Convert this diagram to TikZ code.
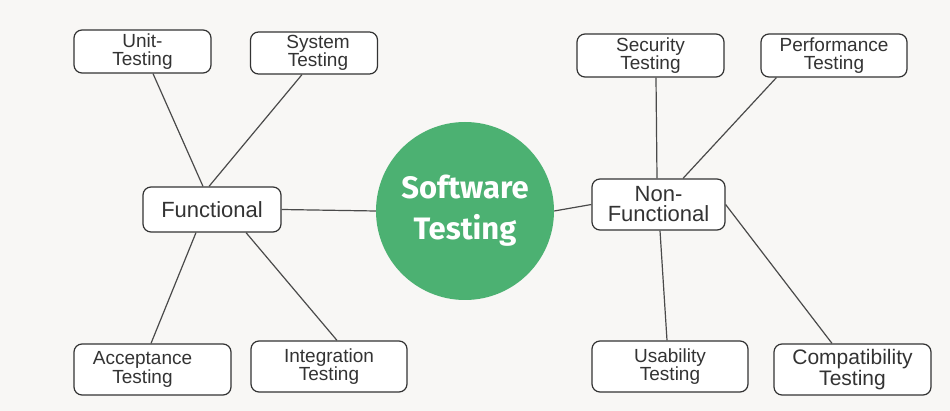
\documentclass[tikz,border=0pt]{standalone}
\usepackage{fontspec}
\setmainfont{Liberation Sans}
\newfontfamily\titlefont{Fira Sans}
\definecolor{bggrey}{HTML}{F8F7F5}
\definecolor{stgreen}{HTML}{4CB172}
\definecolor{inkgrey}{HTML}{333333}
\definecolor{wiregrey}{HTML}{4A4A4A}

\tikzset{
  testbox/.style={draw=inkgrey, line width=1.2pt, fill=white, rounded corners=8pt,
    inner sep=0pt, align=center, text=inkgrey,
    font=\fontsize{19}{18.5}\selectfont},
  hub/.style={testbox, font=\fontsize{22}{20}\selectfont},
  wire/.style={draw=wiregrey, line width=1.2pt},
}

\begin{document}
\begin{tikzpicture}[x=1pt, y=-1pt]
\fill[bggrey] (0,0) rectangle (950,411);
\useasboundingbox (0,0) rectangle (950,411);

\node[circle, fill=stgreen, minimum size=178pt, inner sep=0pt, align=center,
  text=white, font=\titlefont\bfseries\fontsize{31}{41}\selectfont] (st) at (465,211) {Software\\Testing};

% functional side
\node[hub, minimum width=138pt, minimum height=45pt] (func) at (212,209.5) {Functional};
\node[testbox, minimum width=137pt, minimum height=43pt] (unit) at (142.5,51.5) {Unit-\\Testing};
\node[testbox, minimum width=127pt, minimum height=42pt] (sys) at (314,53) {\hspace*{8pt}System\\\hspace*{8pt}Testing};
\node[testbox, minimum width=157pt, minimum height=51pt] (acc) at (152.5,369.5) {Acceptance\hspace*{20pt}\\Testing\hspace*{20pt}};
\node[testbox, minimum width=156pt, minimum height=51pt] (integ) at (329,366.5) {Integration\\Testing};

% non-functional side
\node[hub, minimum width=133pt, minimum height=51pt] (nonf) at (658.5,204.5) {Non-\\Functional};
\node[testbox, minimum width=147pt, minimum height=43pt] (sec) at (650.5,55.5) {Security\\Testing};
\node[testbox, minimum width=146pt, minimum height=43pt] (perf) at (834,55.5) {Performance\\Testing};
\node[testbox, minimum width=156pt, minimum height=51pt] (usab) at (670,366.5) {Usability\\Testing};
\node[testbox, minimum width=157pt, minimum height=51pt, font=\fontsize{21}{19}\selectfont] (compat) at (852.5,369.5) {Compatibility\\Testing};

\path[wire] (func.east) -- (st.west)
  (st.east) -- (nonf.west)
  ([xshift=10.5pt]unit.south) -- ([xshift=-9pt]func.north)
  ([xshift=-12pt]sys.south) -- ([xshift=-3pt]func.north)
  ([xshift=-16pt]func.south) -- ([xshift=-1.5pt]acc.north)
  ([xshift=34pt]func.south) -- ([xshift=8pt]integ.north)
  ([xshift=5.5pt]sec.south) -- ([xshift=-1.5pt]nonf.north)
  ([xshift=16pt]perf.south west) -- ([xshift=24.5pt]nonf.north)
  ([xshift=1.5pt]nonf.south) -- ([xshift=-3pt]usab.north)
  (nonf.east) -- ([xshift=-20.5pt]compat.north);
\end{tikzpicture}
\end{document}
